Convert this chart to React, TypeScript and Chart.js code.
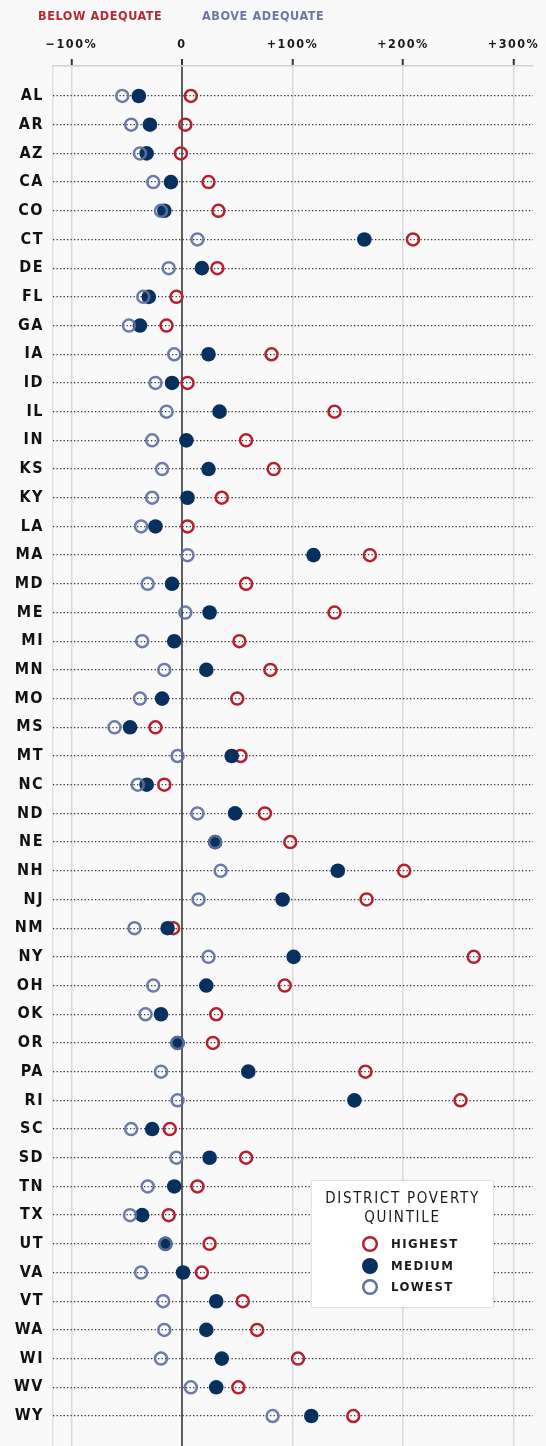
import React, { useEffect, useRef } from 'react';
import { Chart, registerables } from 'chart.js';

Chart.register(...registerables);

const states = ['AL','AR','AZ','CA','CO','CT','DE','FL','GA','IA','ID','IL','IN','KS','KY','LA','MA','MD','ME','MI','MN','MO','MS','MT','NC','ND','NE','NH','NJ','NM','NY','OH','OK','OR','PA','RI','SC','SD','TN','TX','UT','VA','VT','WA','WI','WV','WY'];

const highest = [8,3,-1,24,33,209,32,-5,-14,81,5,138,58,83,36,5,170,58,138,52,80,50,-24,53,-16,75,98,201,167,-8,264,93,31,28,166,252,-11,58,14,-12,25,18,55,68,105,51,155];
const medium = [-39,-29,-32,-10,-16,165,18,-30,-38,24,-9,34,4,24,5,-24,119,-9,25,-7,22,-18,-47,45,-32,48,30,141,91,-13,101,22,-19,-4,60,156,-27,25,-7,-36,-15,1,31,22,36,31,117];
const lowest = [-54,-46,-38,-26,-19,14,-12,-35,-48,-7,-24,-14,-27,-18,-27,-37,5,-31,3,-36,-16,-38,-61,-4,-40,14,30,35,15,-43,24,-26,-33,-4,-19,-4,-46,-5,-31,-47,-15,-37,-17,-16,-19,8,82];

const xTickValues = [-100, 0, 100, 200, 300];
const xTickLabels = ['\u2212100%', '0', '+100%', '+200%', '+300%'];

const RED = '#b71f2e';
const NAVY = '#08305f';
const SLATE = 'rgba(96,113,158,0.92)';
const FONT = "'DejaVu Sans Condensed', 'DejaVu Sans', sans-serif";

const X_MIN = -116.7;
const X_MAX = 317.6;

const spacingPlugin = {
  id: 'spacing',
  beforeDraw(chart: any) {
    chart.ctx.letterSpacing = '1.5px';
  },
  afterDraw(chart: any) {
    chart.ctx.letterSpacing = '0px';
  },
};

function ChartView() {
  const ref = useRef<HTMLCanvasElement | null>(null);
  useEffect(() => {
    document.body.style.margin = '0';
    document.body.style.background = '#f9f9f9';
    const toPts = (arr: number[]) => arr.map((v, i) => ({ x: v, y: i }));
    const chart = new Chart(ref.current as HTMLCanvasElement, {
      type: 'scatter',
      data: {
        datasets: [
          {
            label: 'Lowest',
            data: toPts(lowest),
            pointRadius: 6,
            pointBorderWidth: 2.5,
            pointBorderColor: SLATE,
            pointBackgroundColor: 'rgba(0,0,0,0)',
            clip: false,
          },
          {
            label: 'Medium',
            data: toPts(medium),
            pointRadius: 7.3,
            pointBorderWidth: 0,
            pointBorderColor: NAVY,
            pointBackgroundColor: NAVY,
            clip: false,
          },
          {
            label: 'Highest',
            data: toPts(highest),
            pointRadius: 6,
            pointBorderWidth: 2.5,
            pointBorderColor: RED,
            pointBackgroundColor: 'rgba(0,0,0,0)',
            clip: false,
          },
        ],
      },
      options: {
        animation: false,
        responsive: false,
        devicePixelRatio: 1,
        layout: { autoPadding: false, padding: { top: 0, right: 13, bottom: 0, left: 0 } },
        plugins: { legend: { display: false }, tooltip: { enabled: false } },
        scales: {
          x: {
            type: 'linear',
            position: 'top',
            min: X_MIN,
            max: X_MAX,
            afterBuildTicks: (s: any) => {
              s.ticks = [X_MIN, ...xTickValues].map((v) => ({ value: v }));
            },
            afterFit: (s: any) => {
              s.height = 66;
              s.paddingTop = 0;
              s.paddingBottom = 0;
            },
            ticks: {
              autoSkip: false,
              maxRotation: 0,
              padding: 7,
              color: '#1a1a1a',
              font: { family: FONT, size: 12.5, weight: 'bold' },
              callback: (v: any) => {
                const i = xTickValues.indexOf(Number(v));
                return i >= 0 ? xTickLabels[i] : '';
              },
            },
            grid: {
              color: (c: any) => {
                const v = c.tick ? c.tick.value : null;
                if (v === 0) return '#5e5e5e';
                if (v === X_MIN) return '#e0e0e0';
                return '#dadada';
              },
              lineWidth: (c: any) => {
                const v = c.tick ? c.tick.value : null;
                return v === 0 ? 2 : 1.5;
              },
              tickLength: 7,
              tickWidth: 2,
              tickColor: (c: any) => {
                const v = c.tick ? c.tick.value : null;
                return v === X_MIN ? 'rgba(0,0,0,0)' : '#333';
              },
            },
            border: { display: true, color: '#d0d0d0', width: 1.5 },
          },
          y: {
            type: 'linear',
            reverse: true,
            min: -1.045,
            max: 47.045,
            afterBuildTicks: (s: any) => {
              s.ticks = states.map((_, i) => ({ value: i }));
            },
            afterFit: (s: any) => {
              s.width = 53;
              s.paddingTop = 0;
              s.paddingBottom = 0;
            },
            ticks: {
              autoSkip: false,
              padding: 9,
              color: '#111',
              font: { family: FONT, size: 16, weight: 'bold' },
              callback: (v: any) => states[Number(v)] ?? '',
            },
            grid: {
              color: '#333',
              lineWidth: 1.3,
              drawTicks: false,
            },
            border: { display: false, dash: [1.3, 2.2] },
          },
        },
      },
      plugins: [spacingPlugin],
    } as any);
    return () => chart.destroy();
  }, []);
  return <canvas ref={ref} width={546} height={1446} style={{ display: 'block' }} />;
}

const legendItems = [
  { label: 'HIGHEST', fill: 'transparent', stroke: RED },
  { label: 'MEDIUM', fill: NAVY, stroke: NAVY },
  { label: 'LOWEST', fill: 'transparent', stroke: '#60719e' },
];

export default function App() {
  return (
    <div style={{ position: 'relative', width: 546, height: 1446, background: '#f9f9f9', fontFamily: FONT }}>
      <ChartView />
      <div style={{ position: 'absolute', left: 38, top: 7, fontSize: 12.5, fontWeight: 'bold', letterSpacing: '0.6px', color: '#b52a35', lineHeight: '18px', whiteSpace: 'nowrap' }}>
        BELOW ADEQUATE
      </div>
      <div style={{ position: 'absolute', left: 202, top: 7, fontSize: 12.5, fontWeight: 'bold', letterSpacing: '0.6px', color: '#6b79a3', lineHeight: '18px', whiteSpace: 'nowrap' }}>
        ABOVE ADEQUATE
      </div>
      <div
        style={{
          position: 'absolute',
          left: 312,
          top: 1181,
          width: 181,
          height: 126,
          background: '#ffffff',
          boxShadow: '0 0 2px rgba(0,0,0,0.3)',
          boxSizing: 'border-box',
        }}
      >
        <div style={{ textAlign: 'center', fontSize: 15, letterSpacing: '1.7px', color: '#1a1a1a', lineHeight: '19px', paddingTop: 8 }}>
          DISTRICT POVERTY
          <br />
          QUINTILE
        </div>
        {legendItems.map((it, i) => (
          <div key={it.label} style={{ position: 'absolute', left: 0, top: 52 + i * 21.5, height: 22, width: 181 }}>
            <svg width={20} height={20} style={{ position: 'absolute', left: 48, top: 1 }}>
              <circle cx={10} cy={10} r={it.fill === 'transparent' ? 6.8 : 8} fill={it.fill} stroke={it.stroke} strokeWidth={it.fill === 'transparent' ? 2.5 : 0} />
            </svg>
            <div style={{ position: 'absolute', left: 79, top: 2, fontSize: 13, fontWeight: 'bold', letterSpacing: '1.4px', color: '#1a1a1a', lineHeight: '18px' }}>
              {it.label}
            </div>
          </div>
        ))}
      </div>
    </div>
  );
}
